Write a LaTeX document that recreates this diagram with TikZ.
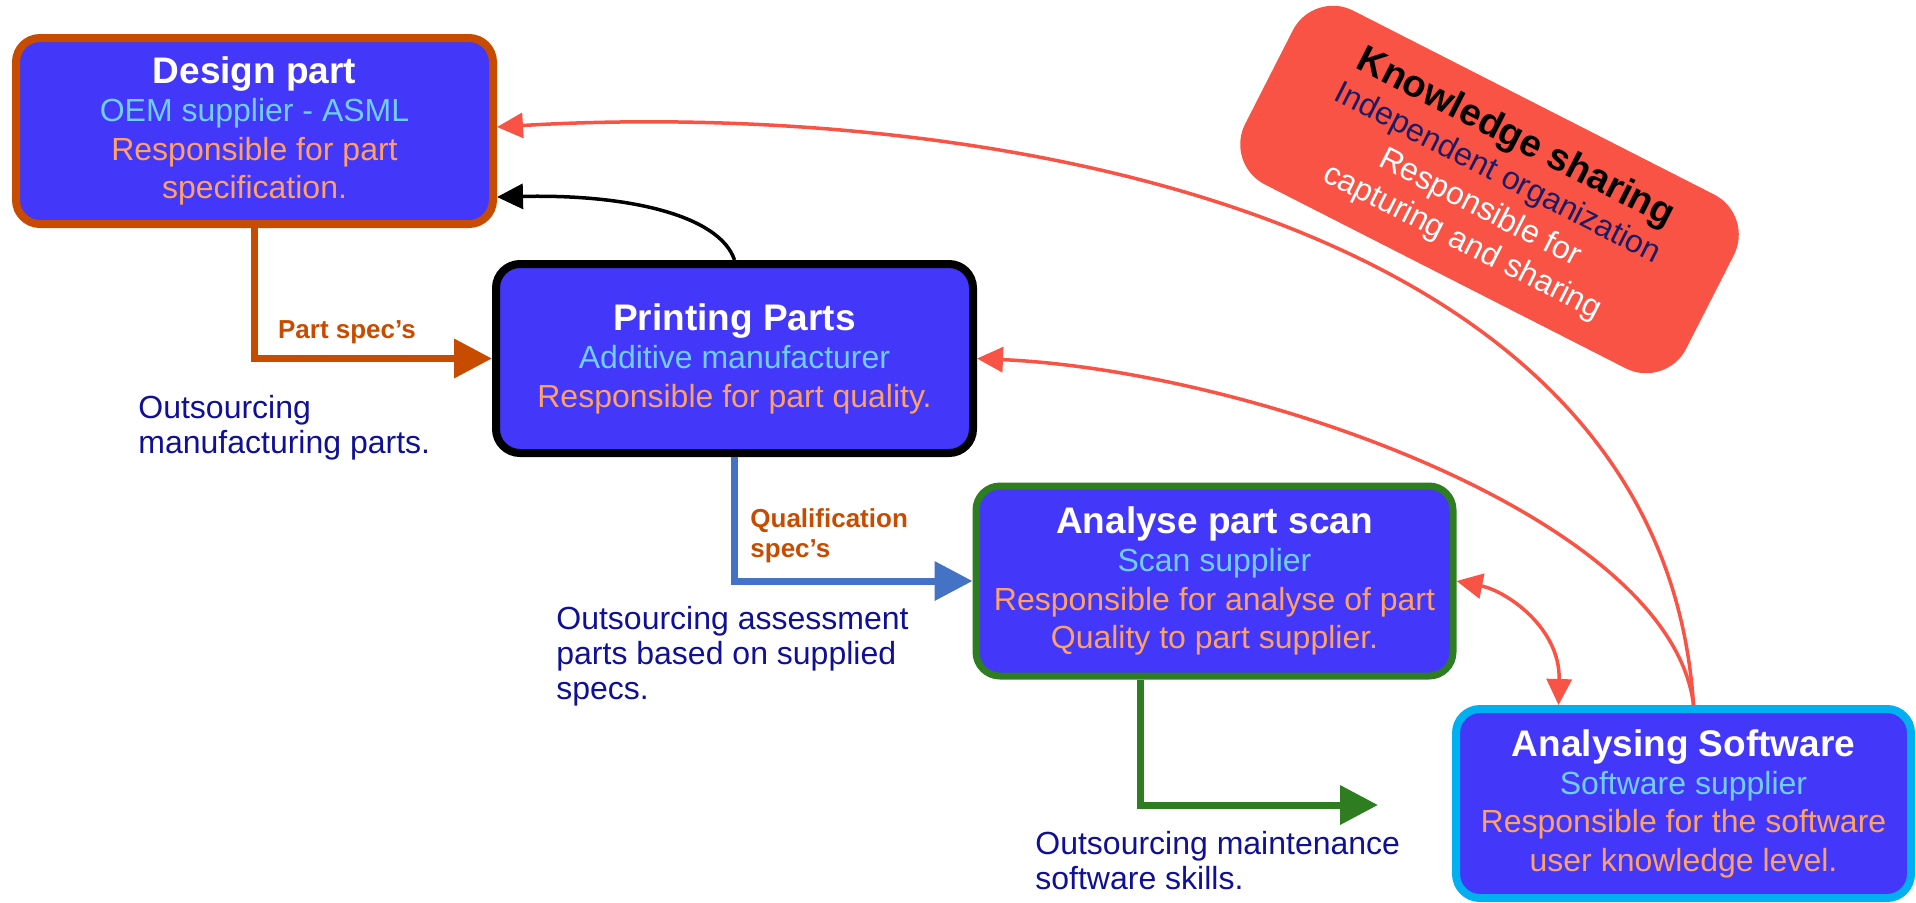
\documentclass[tikz,border=0pt]{standalone}
\usepackage{fontspec}
\setmainfont{Liberation Sans}
\usepackage{tikz}
\usetikzlibrary{arrows.meta,calc}

\definecolor{boxfill}{RGB}{67,56,250}
\definecolor{roletxt}{RGB}{112,206,255}
\definecolor{resptxt}{RGB}{255,160,100}
\definecolor{designc}{RGB}{200,76,0}
\definecolor{qualc}{RGB}{68,114,196}
\definecolor{scanc}{RGB}{46,125,32}
\definecolor{softc}{RGB}{0,176,240}
\definecolor{sharec}{RGB}{249,83,69}
\definecolor{notetxt}{RGB}{16,16,150}
\definecolor{indeptxt}{RGB}{30,26,100}

\newcommand{\boxtitle}[1]{{\fontsize{18.5}{19.2}\selectfont\bfseries #1}}
\newcommand{\boxrole}[1]{{\color{roletxt}#1}}
\newcommand{\boxresp}[1]{{\color{resptxt}#1}}

\begin{document}
\begin{tikzpicture}[
  x=0.5pt, y=-0.5pt,
  box/.style={draw, line width=4pt, rounded corners=12pt, fill=boxfill, text=white,
              align=center, inner sep=0pt, font=\fontsize{16}{19.2}\selectfont,
              minimum width=238.5pt, minimum height=94pt},
  note/.style={anchor=north west, align=left, inner sep=0pt, text=notetxt,
               font=\fontsize{16}{17.5}\selectfont},
  lbl/.style={inner sep=0pt, text=designc, font=\fontsize{13}{15}\selectfont\bfseries},
  flow/.style={-{Triangle[length=19pt,width=19pt]}, line width=3.5pt},
  link/.style={-{Triangle[length=13pt,width=12.5pt]}, line width=1.75pt, sharec}
]
\useasboundingbox (0,0) rectangle (1916,902);

\node[box, draw=designc, minimum height=93pt] (dp) at (254.5,131)
  {\boxtitle{Design part}\\\boxrole{OEM supplier - ASML}\\\boxresp{Responsible for part}\\\boxresp{specification.}};
\node[box, draw=black, minimum height=94.5pt] (pp) at (734.5,358.5)
  {\boxtitle{Printing Parts}\\\boxrole{Additive manufacturer}\\\boxresp{Responsible for part quality.}};
\node[box, draw=scanc, line width=3.5pt, minimum height=95pt] (as) at (1214.5,581)
  {\boxtitle{Analyse part scan}\\\boxrole{Scan supplier}\\\boxresp{Responsible for analyse of part}\\\boxresp{Quality to part supplier.}};
\node[box, draw=softc, minimum width=227.5pt, minimum height=94.5pt] (sw) at (1683.5,803.5)
  {\boxtitle{Analysing Software}\\\boxrole{Software supplier}\\\boxresp{Responsible for the software}\\\boxresp{user knowledge level.}};

\node[rotate=-27, fill=sharec, rounded corners=22.5pt, minimum width=247.5pt, minimum height=97.5pt,
      align=center, inner sep=0pt, font=\fontsize{16}{19.2}\selectfont] (ks) at (1489.5,189.5)
  {{\fontsize{19}{19.2}\selectfont\bfseries Knowledge sharing}\\{\color{indeptxt}Independent organization}\\
   {\color{white}Responsible for}\\{\color{white}capturing and sharing}};

% notes and labels
\node[note] (n1) at (138,395) {Outsourcing\\manufacturing parts.};
\node[note] (n2) at (556,606) {Outsourcing assessment\\parts based on supplied\\specs.};
\node[note] (n3) at (1035,831) {Outsourcing maintenance\\software skills.};
\node[lbl, anchor=base] (pslbl) at (347,338) {Part spec’s};
\node[lbl, anchor=north west, align=left] (qslbl) at (750,508) {Qualification\\spec’s};

% flows
\coordinate (mt) at (1378,805);
\draw[flow, designc] (dp.south) |- (pp.west);
\draw[flow, qualc] (pp.south) |- (as.west);
\draw[flow, scanc] ($(as.south)+(-74,0)$) |- (mt);

\draw[link, black] (pp.north) .. controls +(-15,-45) and +(130,-3) .. ($(dp.east)+(0,66)$);
\draw[link] ($(sw.north)+(10,0)$) .. controls +(-33,-508) and +(453,-27) .. ($(dp.east)+(0,-4)$);
\draw[link] ($(sw.north)+(10,0)$) .. controls +(-23,-188) and +(273,12) .. (pp.east);
\draw[link, {Triangle[length=13pt,width=12.5pt]}-{Triangle[length=13pt,width=12.5pt]}]
  (as.east) .. controls +(50,10) and +(2,-77) .. ($(sw.north)+(-125,0)$);
\end{tikzpicture}
\end{document}
